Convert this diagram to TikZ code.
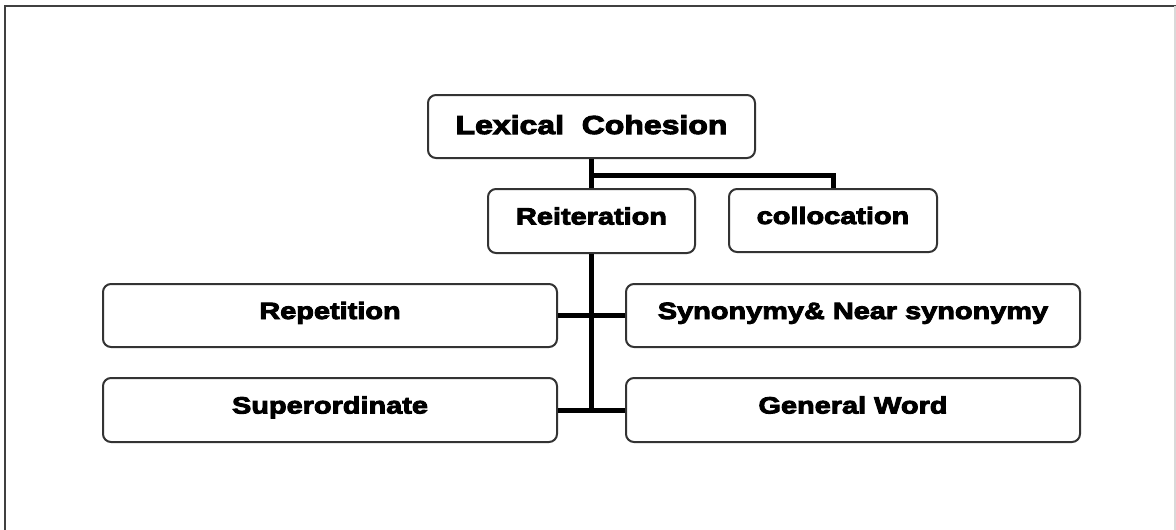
\documentclass[tikz,border=0pt]{standalone}
\usepackage{fontspec}
\setmainfont{Liberation Sans}[BoldFeatures={FakeBold=4,FakeStretch=1.23}]
\begin{document}
\begin{tikzpicture}[x=1pt,y=-1pt,
  box/.style={draw=black!80,line width=2pt,rounded corners=8pt,fill=white,
    inner sep=0pt,font=\bfseries\fontsize{23.5}{28}\selectfont,text=black,
    text height=13pt,text depth=6pt},
  conn/.style={line width=5pt,black},
  frame/.style={line width=2pt,black!75}]
\useasboundingbox (0,0) rectangle (1176,530);
\draw[frame] (5,530) -- (5,6) -- (1176,6);
\draw[black!15,line width=1.5pt] (1175,6) -- (1175,530);
\node[box,minimum width=327pt,minimum height=63pt,font=\bfseries\fontsize{26}{31}\selectfont,text height=16pt,text depth=1pt] (lex) at (591.5,126.5) {Lexical\ \ Cohesion};
\node[box,minimum width=207pt,minimum height=64pt] (rei) at (591.5,221) {Reiteration};
\node[box,minimum width=208pt,minimum height=63pt] (col) at (833,220.5) {collocation};
\node[box,minimum width=454pt,minimum height=63pt] (rep) at (330,315.5) {Repetition};
\node[box,minimum width=454pt,minimum height=63pt] (syn) at (853,315.5) {Synonymy\& Near synonymy};
\node[box,minimum width=454pt,minimum height=64pt] (sup) at (330,410) {Superordinate};
\node[box,minimum width=454pt,minimum height=64pt] (gen) at (853,410) {General Word};
\coordinate (j1) at ([yshift=-16pt]lex.south);
\draw[conn] (lex.south) -- (rei.north);
\draw[conn] (j1) -| (col.north);
\draw[conn] (rei.south) -- (rei.south |- sup.east);
\draw[conn] (rep.east) -- (syn.west);
\draw[conn] (sup.east) -- (gen.west);
\end{tikzpicture}
\end{document}
